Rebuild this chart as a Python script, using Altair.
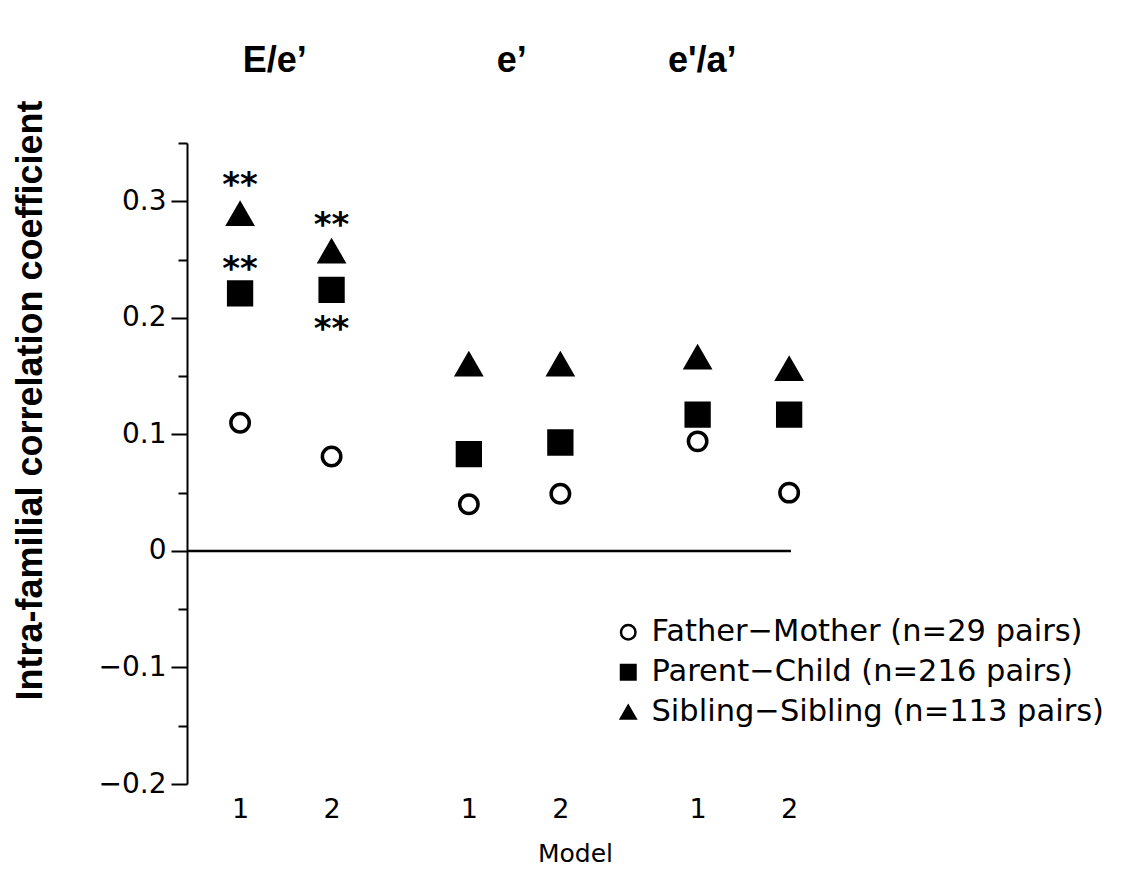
import altair as alt
import pandas as pd

# ---- data ----
groups = ["E/e’", "e’", "e'/a’"]
xpos = [1.0, 2.0, 3.5, 4.5, 6.0, 7.0]
model_labels = ["1", "2", "1", "2", "1", "2"]
series = ["Father−Mother (n=29 pairs)", "Parent−Child (n=216 pairs)", "Sibling−Sibling (n=113 pairs)"]
father_mother = [0.110, 0.081, 0.040, 0.049, 0.094, 0.050]
parent_child = [0.221, 0.224, 0.083, 0.093, 0.117, 0.117]
sibling_sibling = [0.289, 0.257, 0.160, 0.160, 0.166, 0.156]

star_x = [1.0, 1.0, 2.0, 2.0]
star_y = [0.320, 0.248, 0.286, 0.196]
star_text = ["**", "**", "**", "**"]

group_title_x = [1.38, 3.97, 6.05]
group_title_y = [0.42, 0.42, 0.42]

x_start = 0.42
x_end = 8.9
zero_end = 7.02
y_ticks = [-0.2, -0.15, -0.1, -0.05, 0.0, 0.05, 0.1, 0.15, 0.2, 0.25, 0.3, 0.35]

FONT = "DejaVu Sans"

rows = []
for name, vals in zip(series, [father_mother, parent_child, sibling_sibling]):
    for x, v in zip(xpos, vals):
        rows.append({"x": x, "y": v, "series": name})
df = pd.DataFrame(rows)

stars = pd.DataFrame({"x": star_x, "y": star_y, "t": star_text})
titles = pd.DataFrame({"x": group_title_x, "y": group_title_y, "t": groups})
zero = pd.DataFrame({"x1": [x_start], "x2": [zero_end], "y": [0.0]})

xscale = alt.Scale(domain=[x_start, x_end], nice=False, zero=False)
yscale = alt.Scale(domain=[-0.2, 0.35], nice=False, zero=False)

major = "abs(datum.value * 10 - round(datum.value * 10)) < 0.001"

xaxis = alt.Axis(
    values=xpos,
    labelExpr="(datum.value == 1 || datum.value == 3.5 || datum.value == 6) ? '1' : '2'",
    domain=False, ticks=False, grid=False,
    labelFont=FONT, labelFontSize=27, labelColor="black", labelPadding=12,
    title="Model", titleFont=FONT, titleFontSize=25, titleFontWeight="normal",
    titleColor="black", titlePadding=19,
)
yaxis = alt.Axis(
    values=y_ticks,
    labelExpr=f"{major} ? (abs(datum.value) < 0.001 ? '0' : format(datum.value, '.1f')) : ''",
    grid=False,
    domainColor="black", domainWidth=2,
    tickColor="black", tickWidth=2,
    tickSize={"condition": {"test": major, "value": 16}, "value": 9},
    labelFont=FONT, labelFontSize=28, labelColor="black", labelPadding=5,
    title="Intra-familial correlation coefficient",
    titleFont="Liberation Sans", titleFontSize=36, titleFontWeight="bold", titleColor="black",
    titleAngle=270, titleAlign="center", titleBaseline="middle",
    titleX=-157, titleY=257,
)

def make_legend():
    return alt.Legend(title=None, orient="none", legendX=426, legendY=474)

shape_enc = alt.Shape(
    "series:N", sort=series,
    scale=alt.Scale(domain=series, range=["circle", "square", "triangle-up"]),
    legend=make_legend(),
)
fill_enc = alt.Fill(
    "series:N", sort=series,
    scale=alt.Scale(domain=series, range=["white", "black", "black"]),
    legend=make_legend(),
)
stroke_enc = alt.Stroke(
    "series:N", sort=series,
    scale=alt.Scale(domain=series, range=["black", "black", "black"]),
    legend=make_legend(),
)

base = alt.Chart(df).encode(
    x=alt.X("x:Q", scale=xscale, axis=xaxis),
    y=alt.Y("y:Q", scale=yscale, axis=yaxis),
    shape=shape_enc,
    fill=fill_enc,
    stroke=stroke_enc,
)

marker_sizes = [340, 520, 560]
point_layers = [
    base.transform_filter(alt.datum.series == s).mark_point(
        filled=True, opacity=1, fillOpacity=1, strokeWidth=3.5, size=sz
    )
    for s, sz in zip(series, marker_sizes)
]

zero_line = alt.Chart(zero).mark_rule(color="black", strokeWidth=2.5).encode(
    x=alt.X("x1:Q", scale=xscale),
    x2=alt.X2("x2:Q"),
    y=alt.Y("y:Q", scale=yscale),
)

star_layer = alt.Chart(stars).mark_text(
    font=FONT, fontSize=34, fontWeight="bold", color="black", baseline="middle", dy=8
).encode(x=alt.X("x:Q", scale=xscale), y=alt.Y("y:Q", scale=yscale), text="t:N")

title_layer = alt.Chart(titles).mark_text(
    font="Liberation Sans", fontSize=36, fontWeight="bold", color="black", baseline="middle"
).encode(x=alt.X("x:Q", scale=xscale), y=alt.Y("y:Q", scale=yscale), text="t:N")

chart = alt.layer(zero_line, *point_layers, star_layer, title_layer).properties(
    width=776, height=641,
    autosize=alt.AutoSizeParams(type="none"),
    padding={"left": 179, "top": 135, "right": 155, "bottom": 83},
    background="white",
).configure_view(stroke=None).configure_legend(
    labelFont=FONT, labelFontSize=30.5, labelColor="black", labelLimit=0,
    labelOffset=8, rowPadding=9, symbolSize=210,
    symbolStrokeWidth=2.5, padding=0,
)

chart.save("out.html", embed_options={"renderer": "svg", "actions": False})
